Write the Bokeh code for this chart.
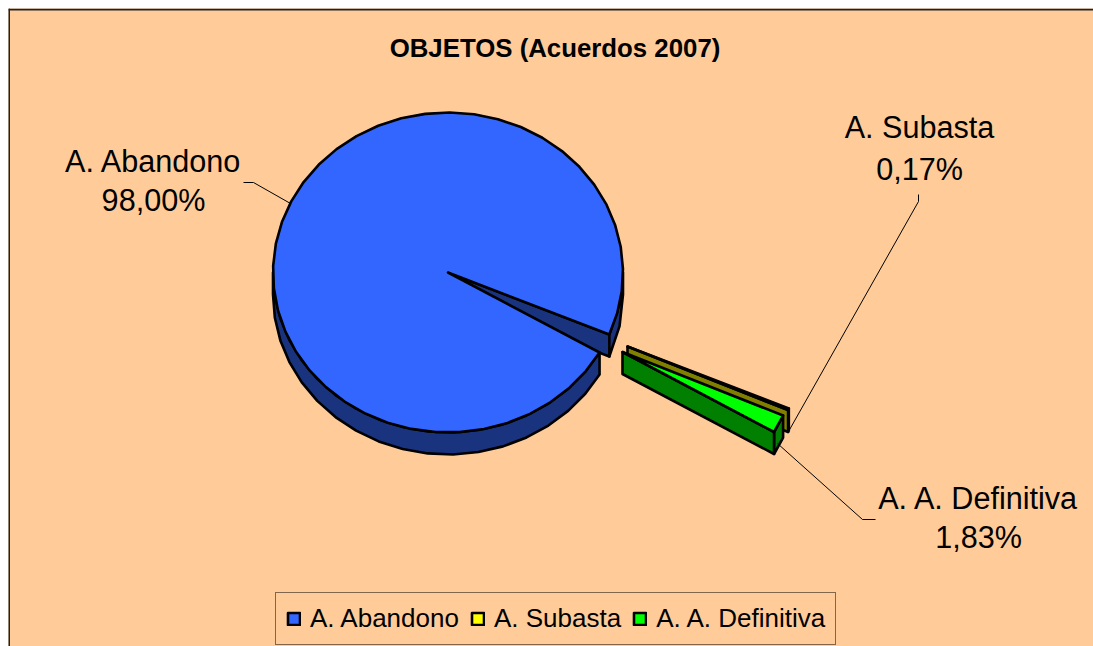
import math
from bokeh.plotting import figure
from bokeh.embed import file_html
from bokeh.resources import INLINE
from bokeh.models import Range1d, Span, Legend, LegendItem
from bokeh.core.properties import value

# ---- data ----
names = ["A. Abandono", "A. Subasta", "A. A. Definitiva"]
shares = [98.00, 0.17, 1.83]
share_labels = ["98,00%", "0,17%", "1,83%"]
title_text = "OBJETOS (Acuerdos 2007)"

# ---- styles ----
top_colors = ["#3366FF", "#FFFF00", "#00FF00"]
side_colors = ["#1A337F", "#807F00", "#007F00"]
bg = "#FFCC99"
font = value("Liberation Sans")

# ---- projected pie geometry (page pixels) ----
CX, CY, RX, RY, DEPTH = 447.5, 272.0, 175.0, 160.0, 22.0
START = 30.0
EXPLODE_OFFSETS = [(0.0, 0.0), (179.5, 74.0), (174.5, 79.5)]
STEP = 8.0

p = figure(width=1085, height=638, margin=(8, 0, 0, 8), output_backend="svg", toolbar_location=None,
           x_range=Range1d(8, 1093), y_range=Range1d(646, 8),
           min_border=0, background_fill_color=bg, border_fill_color=bg,
           outline_line_color=None)
p.axis.visible = False
p.grid.visible = False
p.xaxis.visible = False
p.yaxis.visible = False

def rim(cx, cy, a0, a1, dz=0.0):
    n = max(1, int(abs(a1 - a0) / STEP))
    out = []
    for i in range(n + 1):
        a = math.radians(a0 + (a1 - a0) * i / n)
        out.append((cx + RX * math.cos(a), cy + RY * math.sin(a) + dz))
    return out

def patch(points, color, **kw):
    xs, ys = zip(*points)
    return p.patch(list(xs), list(ys), fill_color=color, line_color="black",
                   line_width=2.6, line_join="round", **kw)

def wall(cx, cy, a0, a1, color):
    upper = rim(cx, cy, a0, a1)
    lower = rim(cx, cy, a0, a1, DEPTH)
    patch(upper + lower[::-1], color)

def cut(cx, cy, a, color):
    x, y = rim(cx, cy, a, a)[0]
    patch([(cx, cy), (x, y), (x, y + DEPTH), (cx, cy + DEPTH)], color)

# sweep angles from the shares, clockwise on screen
ang = [START]
for s in shares:
    ang.append(ang[-1] + s * 3.6)

tops = []
# main slice
a0, a1 = ang[0], ang[1]
cut(CX, CY, a1, side_colors[0])
wall(CX, CY, a0, 180.0, side_colors[0])
wall(CX, CY, 360.0, a1, side_colors[0])
tops.append(patch([(CX, CY)] + rim(CX, CY, a0, a1), top_colors[0]))

# exploded slices
for i in (1, 2):
    a0, a1 = ang[i], ang[i + 1]
    cx = CX + EXPLODE_OFFSETS[i][0]
    cy = CY + EXPLODE_OFFSETS[i][1]
    wall(cx, cy, a0, a1, side_colors[i])
    cut(cx, cy, a1, side_colors[i])
    tops.append(patch([(cx, cy)] + rim(cx, cy, a0, a1), top_colors[i]))

# leader lines
leaders = [
    ([243, 253, 290], [182, 182, 203]),
    ([918, 918, 788], [194, 201, 431]),
    ([777, 862, 875], [443, 519, 519]),
]
for lx, ly in leaders:
    p.line(lx, ly, line_color="black", line_width=1)

# labels
label_xy = [(153, 160, 199), (919, 126, 168), (978, 497, 536)]
for (x, y1, y2), n, s in zip(label_xy, names, share_labels):
    p.text([x, x], [y1, y2], text=[n, s], text_font=font, text_font_size="30.6px",
           text_align="center", text_baseline="middle", text_color="black")

p.text([554.5], [47], text=[title_text], text_font=font, text_font_size="25.8px",
       text_font_style="bold", text_align="center", text_baseline="middle", text_color="black")

# frame (left and top only: the chart runs off the picture on the others)
p.add_layout(Span(location=8.5, dimension="height", line_color="#222222", line_width=2))
p.add_layout(Span(location=9, dimension="width", line_color="#222222", line_width=2))

legend = Legend(items=[LegendItem(label=n, renderers=[r]) for n, r in zip(names, tops)],
                orientation="horizontal", location=(267, 1), margin=0, padding=10,
                spacing=11, glyph_width=15, glyph_height=15, label_standoff=9,
                label_text_font="Liberation Sans", label_text_font_size="26px",
                label_height=28,
                label_text_color="black", background_fill_color=bg, background_fill_alpha=1,
                border_line_color="black", border_line_width=1)
p.add_layout(legend)

open("out.html", "w").write(file_html(p, INLINE))
